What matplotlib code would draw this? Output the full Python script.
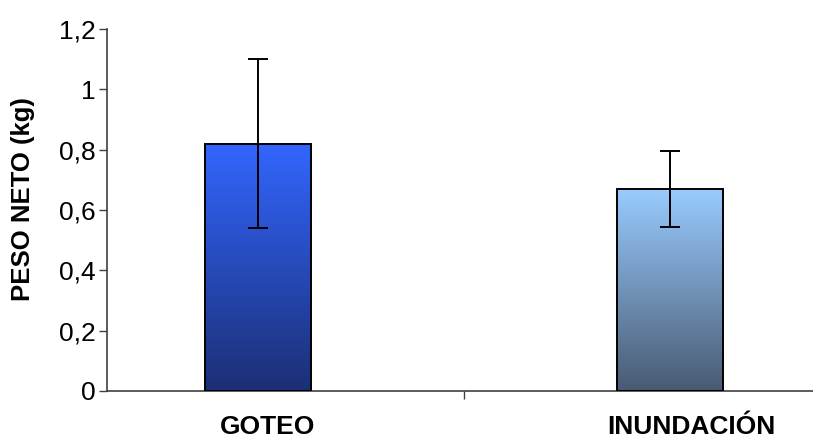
import matplotlib
matplotlib.use("Agg")
import matplotlib.pyplot as plt
import numpy as np
from matplotlib.colors import LinearSegmentedColormap
from matplotlib.ticker import FuncFormatter

categories = ["GOTEO", "INUNDACIÓN"]
values = [0.82, 0.67]
errors = [0.28, 0.125]
top_colors = ["#3366FF", "#99CCFF"]
bottom_colors = ["#1B2F75", "#485A72"]

plt.rcParams['font.family'] = ['Liberation Sans', 'DejaVu Sans']

fig = plt.figure(figsize=(8.13, 4.43), dpi=100)
ax = fig.add_axes([0.1316, 0.1174, 0.8684, 0.8171])

x = np.arange(len(categories))
width = 0.257
bars = ax.bar(x, values, width=width, color='none', edgecolor='black', linewidth=1.4, zorder=3)

grad = np.linspace(0, 1, 256).reshape(-1, 1)
for b, tc, bc in zip(bars, top_colors, bottom_colors):
    cmap = LinearSegmentedColormap.from_list('g', [bc, tc])
    x0, y0 = b.get_x(), b.get_y()
    im = ax.imshow(grad, extent=[x0, x0 + b.get_width(), y0, y0 + b.get_height()],
                   origin='lower', aspect='auto', cmap=cmap, zorder=2)
    im.set_clip_path(b)

ax.errorbar(x, values, yerr=errors, fmt='none', ecolor='black', elinewidth=1.4,
            capsize=7, capthick=1.4, zorder=4)

ax.set_xlim(-0.3665, 1.347)
ax.set_ylim(0, 1.2)
ax.set_yticks(np.arange(0, 1.21, 0.2))
ax.yaxis.set_major_formatter(FuncFormatter(lambda v, p: ('%g' % round(v, 1)).replace('.', ',')))
ax.tick_params(axis='y', direction='out', length=6, width=1, color='#404040',
               labelsize=19, pad=2)

ax.set_xticks([0.5])
ax.set_xticklabels([''])
ax.tick_params(axis='x', which='major', direction='out', length=6, width=1, color='#404040')
ax.set_xticks(x + np.array([0.024, 0.051]), minor=True)
ax.set_xticklabels(categories, minor=True, fontsize=19, fontweight='bold')
ax.tick_params(axis='x', which='minor', length=0, pad=17)

for s in ['top', 'right']:
    ax.spines[s].set_visible(False)
for s in ['left', 'bottom']:
    ax.spines[s].set_color('#404040')
    ax.spines[s].set_linewidth(1.2)

fig.text(23 / 813, 0.551, 'PESO NETO (kg)', rotation=90, ha='center', va='center',
         fontsize=18.5, fontweight='bold')

fig.savefig('out.png', dpi=100)
